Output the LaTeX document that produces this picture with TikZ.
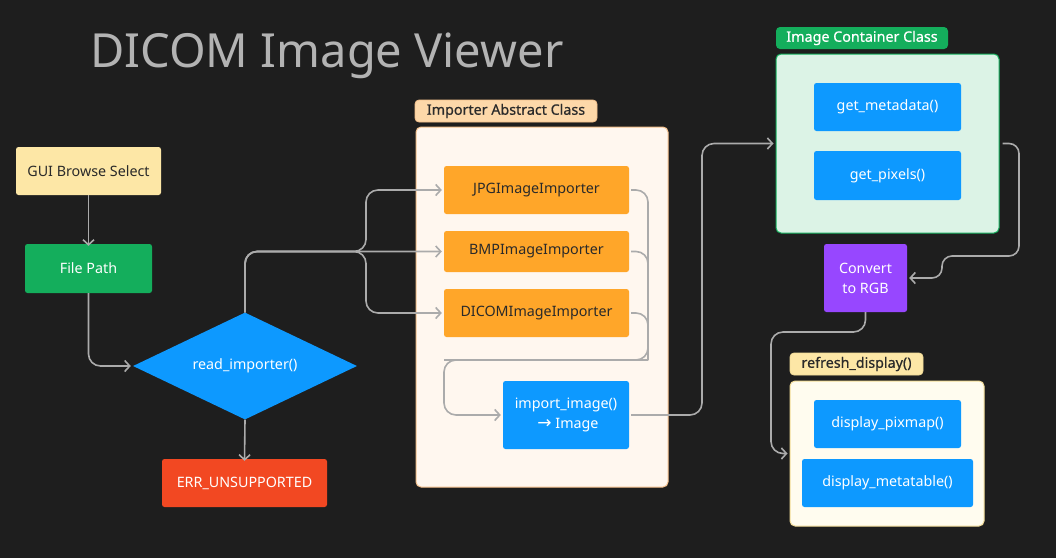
\documentclass[tikz,border=0pt]{standalone}
\usepackage{fontspec}
\setmainfont{Noto Sans}
\newfontfamily\medfont{Noto Sans}[FakeBold=0.6]
\newfontfamily\symfont{DejaVu Sans}
\usetikzlibrary{arrows.meta,shapes.geometric}
\definecolor{bg}{HTML}{1E1E1E}
\definecolor{ttl}{HTML}{B3B3B3}
\definecolor{ln}{HTML}{ABABAB}
\definecolor{cyel}{HTML}{FDE7A6}
\definecolor{cgrn}{HTML}{14AE5C}
\definecolor{cblu}{HTML}{0D99FF}
\definecolor{cred}{HTML}{F24822}
\definecolor{corg}{HTML}{FFA629}
\definecolor{cpur}{HTML}{9747FF}
\definecolor{cpeach}{HTML}{FDD8A9}
\definecolor{cpeachb}{HTML}{F4C08C}
\definecolor{ccream}{HTML}{FFF7EF}
\definecolor{cmint}{HTML}{DCF3E6}
\definecolor{civory}{HTML}{FFFCEF}
\definecolor{civoryb}{HTML}{F2DC98}
\definecolor{dtxt}{HTML}{2A2A2A}
\begin{document}
\begin{tikzpicture}[x=1pt,y=-1pt,
  base/.style={inner sep=0pt,align=center,font=\fontsize{14.3}{18}\selectfont},
  box/.style={base,rounded corners=2.5pt,minimum width=#1},
  lightbox/.style={box=#1,fill=cyel,text=dtxt},
  greenbox/.style={box=#1,fill=cgrn,text=white},
  bluebox/.style={box=#1,fill=cblu,text=white},
  redbox/.style={box=#1,fill=cred,text=white},
  orangebox/.style={box=#1,fill=corg,text=dtxt},
  purplebox/.style={box=#1,fill=cpur,text=white},
  tag/.style={base,font=\fontsize{14.3}{18}\medfont,rounded corners=4pt,minimum height=22pt,minimum width=#1},
  frame/.style={rounded corners=5pt,line width=1pt,inner sep=0pt},
  conn/.style={draw=ln,line width=1.6pt,rounded corners=12pt},
  arr/.style={conn,-{Straight Barb[length=5pt,width=11pt,line width=1.6pt]}}
]
\fill[bg] (0,0) rectangle (1056,558);
\useasboundingbox (0,0) rectangle (1056,558);

\node[text=ttl,anchor=base west,inner sep=0pt,font=\fontsize{47}{52}\selectfont] (title) at (90,67) {DICOM Image Viewer};

% left column
\node[lightbox=145pt,minimum height=48pt] (gui) at (88.5,171) {GUI Browse Select};
\node[greenbox=127pt,minimum height=49pt] (fp) at (88.5,268.5) {File Path};
\node[diamond,base,shape aspect=2.09,fill=cblu,text=white,minimum width=224pt,minimum height=107pt] (dia) at (245,366) {read\_importer()};
\node[redbox=165pt,minimum height=48pt] (err) at (244.5,483) {ERR\_UNSUPPORTED};

% importer frame
\node[frame,draw=cpeachb,fill=ccream,minimum width=252pt,minimum height=360pt] (impf) at (542,307) {};
\node[tag=182pt,fill=cpeach,draw=cpeachb,line width=0.8pt,text=dtxt] (impl) at (506,111) {Importer Abstract Class};
\node[orangebox=185pt,minimum height=48pt] (jpg) at (536.5,190) {JPGImageImporter};
\node[orangebox=185pt,minimum height=41pt] (bmp) at (536.5,251.5) {BMPImageImporter};
\node[orangebox=185pt,minimum height=48pt] (dcm) at (536.5,313) {DICOMImageImporter};
\node[bluebox=126pt,minimum height=68pt] (imp) at (566,415) {import\_image()\\[2pt]\hspace*{4pt}{\symfont\fontsize{17}{14}\selectfont →} Image};

% container frame
\node[frame,draw=cgrn,fill=cmint,minimum width=223pt,minimum height=179pt] (cont) at (887.5,143.5) {};
\node[tag=172pt,fill=cgrn,text=white] (contl) at (862,38) {Image Container Class};
\node[bluebox=147pt,minimum height=48pt] (meta) at (887.5,107) {get\_metadata()};
\node[bluebox=147pt,minimum height=49pt] (pix) at (887.5,175.5) {get\_pixels()};

\node[purplebox=83pt,minimum height=68pt] (conv) at (865.5,278) {Convert\\[2pt]to RGB};

% refresh frame
\node[frame,draw=civoryb,fill=civory,minimum width=194pt,minimum height=145pt] (ref) at (887,453.5) {};
\node[tag=133pt,fill=cyel,draw=civoryb,line width=0.8pt,text=dtxt] (refl) at (856.5,364) {refresh\_display()};
\node[bluebox=147pt,minimum height=48pt] (dpm) at (887.5,424) {display\_pixmap()};
\node[bluebox=171pt,minimum height=48pt] (dmt) at (887.5,483) {display\_metatable()};

% helper coordinates
\coordinate (fork) at (366,251.5);
\coordinate (r1) at (648,360);
\coordinate (l1) at (444,360);
\coordinate (c2) at (702,143.5);
\coordinate (k1) at (1019,256);
\coordinate (k1b) at (942,256);
\coordinate (k2) at (771,332);

% connectors
\draw[arr] (gui.south) -- ([yshift=-2pt]fp.north);
\draw[arr] (fp.south) |- ([xshift=-2pt]dia.west);
\draw[arr] (dia.south) -- ([yshift=-2pt]err.north);
\draw[arr] (dia.north) |- ([xshift=-2pt]bmp.west);
\draw[arr] (dia.north) |- (fork) |- ([xshift=-2pt]jpg.west);
\draw[arr] (dia.north) |- (fork) |- ([xshift=-2pt]dcm.west);
\draw[conn] ([xshift=2pt]jpg.east) -| (r1) -- (l1);
\draw[conn] ([xshift=2pt]bmp.east) -| (r1);
\draw[conn] ([xshift=2pt]dcm.east) -| (r1);
\draw[arr] (r1) -- (l1) |- ([xshift=-2pt]imp.west);
\draw[arr] ([xshift=2pt]imp.east) -| (c2) -- ([xshift=-2pt]cont.west);
\draw[arr,rounded corners=10pt] ([xshift=3pt]cont.east) -| (k1) -- (k1b) |- ([xshift=2pt]conv.east);
\draw[arr] (conv.south) |- (k2) |- ([xshift=-2pt]ref.west);
\end{tikzpicture}
\end{document}
